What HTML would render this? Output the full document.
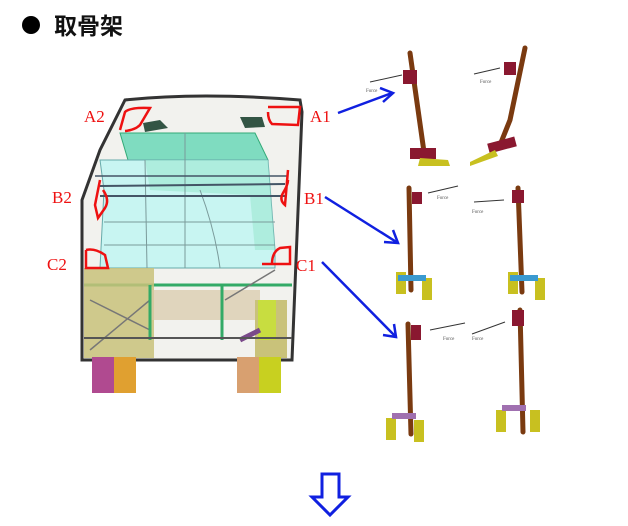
<!DOCTYPE html>
<html><head><meta charset="utf-8"><style>
body{margin:0;background:#fff;width:628px;height:521px;overflow:hidden}
</style></head><body>
<svg width="628" height="521" xmlns="http://www.w3.org/2000/svg" font-family="Liberation Serif, serif">
<circle cx="31" cy="25" r="9" fill="#000"/>
<text x="54" y="34" font-family="Liberation Sans, 'Noto Sans CJK SC', sans-serif" font-weight="bold" font-size="23" fill="#111">取骨架</text>

<!-- bus -->
<path d="M125,100 Q200,92 300,100 L302,112 L292,360 L82,360 L82,200 L100,150 Z" fill="#f2f2ee" stroke="#333" stroke-width="3"/>
<polygon points="120,133 255,133 268,160 128,160" fill="#7fdcc0" stroke="#3a7" stroke-width="1"/>
<polygon points="100,160 268,160 275,250 275,268 100,268 104,190" fill="#c8f5f2" stroke="#6aa" stroke-width="1"/>
<polygon points="145,160 268,160 275,250 255,250 250,195 150,190" fill="#9de8d0" opacity="0.6"/>
<g stroke="#7a9a9a" stroke-width="1" fill="none">
<line x1="145" y1="160" x2="147" y2="268"/><line x1="185" y1="133" x2="185" y2="268"/>
<path d="M200,190 Q215,230 220,268"/><line x1="104" y1="222" x2="275" y2="222"/>
<line x1="104" y1="245" x2="275" y2="245"/>
</g>
<line x1="100" y1="196" x2="285" y2="196" stroke="#456" stroke-width="2"/>
<line x1="100" y1="186" x2="285" y2="184" stroke="#456" stroke-width="2"/>
<line x1="95" y1="176" x2="288" y2="176" stroke="#456" stroke-width="1.5"/>
<line x1="84" y1="285" x2="292" y2="285" stroke="#3a6" stroke-width="3"/>
<rect x="84" y="268" width="70" height="90" fill="#c9c27a" opacity="0.85"/>
<rect x="150" y="290" width="110" height="30" fill="#d8c9a8" opacity="0.7"/>
<rect x="255" y="300" width="32" height="58" fill="#c9c27a"/>
<rect x="258" y="300" width="18" height="40" fill="#c8dd40"/>
<g stroke="#777" stroke-width="1.5"><line x1="90" y1="300" x2="150" y2="330"/><line x1="225" y1="300" x2="275" y2="270"/><line x1="90" y1="350" x2="150" y2="300"/></g>
<line x1="240" y1="340" x2="260" y2="330" stroke="#7a4a8a" stroke-width="5"/>
<line x1="150" y1="285" x2="150" y2="340" stroke="#3a6" stroke-width="3"/>
<line x1="222" y1="285" x2="222" y2="340" stroke="#3a6" stroke-width="3"/>
<line x1="84" y1="338" x2="292" y2="338" stroke="#555" stroke-width="2"/>
<rect x="92" y="357" width="22" height="36" fill="#b04a90"/>
<rect x="114" y="357" width="22" height="36" fill="#e0a030"/>
<rect x="237" y="357" width="22" height="36" fill="#d8a070"/>
<rect x="259" y="357" width="22" height="36" fill="#c8d020"/>
<path d="M143,123 L160,120 L168,128 L145,132Z" fill="#354"/>
<path d="M240,117 L262,117 L265,127 L245,128Z" fill="#354"/>
<!-- red outlines -->
<g fill="none" stroke="#e11" stroke-width="2.5">
<path d="M120,130 L125,112 Q130,107 150,108 L140,125 Q135,130 125,131"/>
<path d="M268,107 L300,107 L298,125 L272,124 Q268,120 268,112"/>
<path d="M100,180 L95,205 L98,218 L105,208 Q110,200 103,190"/>
<path d="M288,170 L285,205 Q279,200 283,193 Q288,185 288,180"/>
<path d="M86,250 L86,268 L108,268 L105,255 Q95,248 86,250"/>
<path d="M262,264 L290,264 L290,247 L280,248 Q272,252 272,264"/>
</g>
<g fill="#e11" font-size="17">
<text x="84" y="122">A2</text><text x="310" y="122">A1</text>
<text x="52" y="203">B2</text><text x="304" y="204">B1</text>
<text x="47" y="270">C2</text><text x="296" y="271">C1</text>
</g>
<!-- blue arrows -->
<g stroke="#1020e0" stroke-width="2.5" fill="none">
<line x1="338" y1="113" x2="392" y2="93"/><polyline points="380,88 393,93 383,102"/>
<line x1="325" y1="197" x2="398" y2="243"/><polyline points="384,242 398,243 393,230"/>
<line x1="322" y1="262" x2="396" y2="337"/><polyline points="383,335 396,337 394,324"/>
</g>
<!-- components -->
<g stroke="#7a3a10" stroke-width="5" fill="none" stroke-linecap="round">
<line x1="410" y1="53" x2="424" y2="152"/>
<path d="M525,48 L510,120 L500,145"/>
<line x1="409" y1="188" x2="411" y2="290"/>
<line x1="518" y1="188" x2="522" y2="292"/>
<line x1="408" y1="324" x2="411" y2="434"/>
<line x1="520" y1="310" x2="523" y2="432"/>
</g>
<g fill="#8a1830">
<rect x="403" y="70" width="14" height="14"/><rect x="410" y="148" width="26" height="11"/>
<rect x="504" y="62" width="12" height="13"/><rect x="488" y="140" width="28" height="10" transform="rotate(-15 502 145)"/>
<rect x="412" y="192" width="10" height="12"/><rect x="512" y="190" width="12" height="13"/>
<rect x="411" y="325" width="10" height="15"/><rect x="512" y="310" width="12" height="16"/>
</g>
<g fill="#c8c020">
<path d="M420,158 L448,160 L450,166 L418,166Z"/><path d="M470,162 L495,150 L498,156 L470,166Z"/>
<rect x="396" y="272" width="10" height="22"/><rect x="422" y="278" width="10" height="22"/>
<rect x="508" y="272" width="10" height="22"/><rect x="535" y="278" width="10" height="22"/>
<rect x="386" y="418" width="10" height="22"/><rect x="414" y="420" width="10" height="22"/>
<rect x="496" y="410" width="10" height="22"/><rect x="530" y="410" width="10" height="22"/>
</g>
<rect x="398" y="275" width="28" height="6" fill="#3a9ad0"/>
<rect x="510" y="275" width="28" height="6" fill="#3a9ad0"/>
<rect x="392" y="413" width="24" height="6" fill="#a070b0"/>
<rect x="502" y="405" width="24" height="6" fill="#a070b0"/>
<g stroke="#333" stroke-width="1" fill="none">
<line x1="370" y1="82" x2="402" y2="75"/><line x1="474" y1="74" x2="500" y2="68"/>
<line x1="458" y1="186" x2="428" y2="193"/><line x1="474" y1="202" x2="504" y2="200"/>
<line x1="465" y1="323" x2="430" y2="330"/><line x1="472" y1="334" x2="505" y2="322"/>
</g>
<g font-size="5" fill="#555">
<text x="366" y="92">Force</text><text x="480" y="83">Force</text>
<text x="437" y="199">Force</text><text x="472" y="213">Force</text>
<text x="443" y="340">Force</text><text x="472" y="340">Force</text>
</g>
<!-- down arrow -->
<path d="M322,474 L339,474 L339,497 L348,497 L330,515 L312,497 L322,497Z" fill="none" stroke="#1020e0" stroke-width="3"/>
</svg>
</body></html>
